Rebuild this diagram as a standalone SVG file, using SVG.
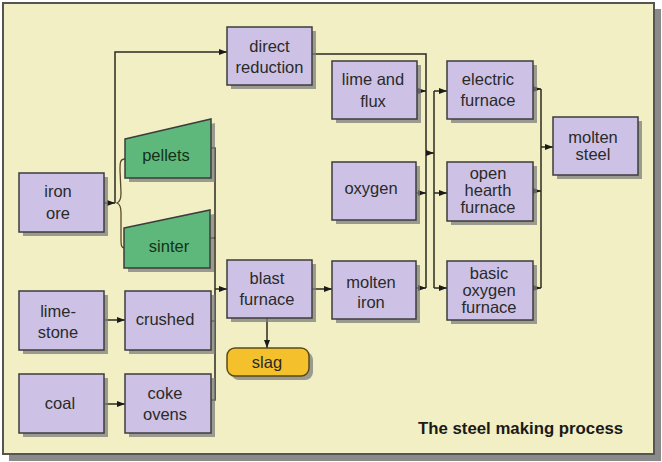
<svg xmlns="http://www.w3.org/2000/svg" width="662" height="462" viewBox="0 0 662 462">
<defs>
<style>
.frame{fill:#f3efc4;stroke:#555;stroke-width:2}
.fshadow{fill:#8a8a8a}
.box{fill:#cdc2e5;stroke:#3c3c3c;stroke-width:1.5}
.green{fill:#5fb87b;stroke:#3c3c3c;stroke-width:1.5}
.slag{fill:#f4c02c;stroke:#5a4a1a;stroke-width:1.5}
.sh{fill:#7d7d7d;opacity:0.75}
.t{font-family:"Liberation Sans",Arial,sans-serif;font-size:16.5px;fill:#2a2a2a;text-anchor:middle}
.tg{fill:#143218}
.title{font-family:"Liberation Sans",Arial,sans-serif;font-size:16.8px;font-weight:bold;fill:#1a1a1a}
.ln{fill:none;stroke:#2b2b20;stroke-width:1.5}
.ar{fill:none;stroke:#2b2b20;stroke-width:1.5;marker-end:url(#ah)}
.brace{fill:none;stroke:#5a4a2a;stroke-width:1.3}
</style>
<marker id="ah" viewBox="0 0 8 6" refX="8" refY="3" markerWidth="8" markerHeight="6" markerUnits="userSpaceOnUse" orient="auto">
<path d="M0,0 L8,3 L0,6 Z" fill="#1a1a1a"/>
</marker>
</defs>
<rect x="0" y="0" width="662" height="462" fill="#ffffff"/>
<rect class="fshadow" x="9" y="9" width="652" height="452"/>
<rect class="frame" x="3" y="3" width="651" height="451"/>

<g id="connectors">
<polyline class="ar" points="115,203 115,52 227,52"/>
<line class="ar" x1="104" y1="203" x2="115" y2="203"/>
<path class="brace" d="M125,159 C120,159 120,163 120,170 L121,193 C121,199 120,202 117,203 C120,204 121,207 121,213 L121,238 C121,245 121,248 125,248"/>
<polyline class="ln" points="211,148 215,148 215,400 211,400"/>
<line class="ln" x1="210" y1="238" x2="215" y2="238"/>
<line class="ln" x1="211" y1="321" x2="215" y2="321"/>
<line class="ar" x1="215" y1="289" x2="227" y2="289"/>
<line class="ar" x1="105" y1="320" x2="125" y2="320"/>
<line class="ar" x1="105" y1="404" x2="125" y2="404"/>
<line class="ar" x1="267" y1="318" x2="267" y2="348"/>
<line class="ar" x1="312" y1="289" x2="332" y2="289"/>
<polyline class="ln" points="312,54 426,54 426,288"/>
<line class="ar" x1="417" y1="91" x2="426" y2="91"/>
<line class="ar" x1="416" y1="193" x2="426" y2="193"/>
<line class="ar" x1="416" y1="288" x2="426" y2="288"/>
<line class="ar" x1="426" y1="153" x2="434" y2="153"/>
<line class="ln" x1="434" y1="91" x2="434" y2="288"/>
<line class="ar" x1="434" y1="91" x2="447" y2="91"/>
<line class="ar" x1="434" y1="193" x2="447" y2="193"/>
<line class="ar" x1="434" y1="288" x2="447" y2="288"/>
<line class="ar" x1="533" y1="89" x2="541" y2="89"/>
<line class="ar" x1="533" y1="191" x2="541" y2="191"/>
<line class="ar" x1="533" y1="288" x2="541" y2="288"/>
<line class="ln" x1="541" y1="89" x2="541" y2="288"/>
<line class="ar" x1="541" y1="147" x2="553" y2="147"/>
</g>

<g id="direct-reduction">
<rect class="sh" x="231" y="31" width="85" height="58"/>
<rect class="box" x="227" y="27" width="85" height="58"/>
<text class="t" x="269.5" y="52">direct</text>
<text class="t" x="269.5" y="73">reduction</text>
</g>
<g id="iron-ore">
<rect class="sh" x="23" y="177" width="85" height="59"/>
<rect class="box" x="19" y="173" width="85" height="59"/>
<text class="t" x="58" y="197">iron</text>
<text class="t" x="58" y="219">ore</text>
</g>
<g id="pellets">
<polygon class="sh" points="129,143 215,123 215,182 129,182"/>
<polygon class="green" points="125,139 211,119 211,178 125,178"/>
<text class="t tg" x="166" y="161">pellets</text>
</g>
<g id="sinter">
<polygon class="sh" points="128,232 214,214 214,272 128,272"/>
<polygon class="green" points="124,228 210,210 210,268 124,268"/>
<text class="t tg" x="169" y="252">sinter</text>
</g>
<g id="limestone">
<rect class="sh" x="23" y="295" width="85" height="59"/>
<rect class="box" x="19" y="291" width="85" height="59"/>
<text class="t" x="58" y="317">lime-</text>
<text class="t" x="58" y="338">stone</text>
</g>
<g id="crushed">
<rect class="sh" x="129" y="295" width="86" height="59"/>
<rect class="box" x="125" y="291" width="86" height="59"/>
<text class="t" x="165" y="325">crushed</text>
</g>
<g id="coal">
<rect class="sh" x="23" y="378" width="85" height="59"/>
<rect class="box" x="19" y="374" width="85" height="59"/>
<text class="t" x="60" y="409">coal</text>
</g>
<g id="coke-ovens">
<rect class="sh" x="129" y="378" width="86" height="59"/>
<rect class="box" x="125" y="374" width="86" height="59"/>
<text class="t" x="165" y="399">coke</text>
<text class="t" x="165" y="420">ovens</text>
</g>
<g id="blast-furnace">
<rect class="sh" x="231" y="264" width="85" height="58"/>
<rect class="box" x="227" y="260" width="85" height="58"/>
<text class="t" x="267" y="284">blast</text>
<text class="t" x="267" y="305">furnace</text>
</g>
<g id="slag">
<rect class="sh" x="231" y="352" width="82" height="28" rx="8"/>
<rect class="slag" x="227" y="348" width="82" height="28" rx="8"/>
<text class="t" x="267" y="368">slag</text>
</g>
<g id="lime-and-flux">
<rect class="sh" x="336" y="65" width="85" height="58"/>
<rect class="box" x="332" y="61" width="85" height="58"/>
<text class="t" x="373" y="85">lime and</text>
<text class="t" x="373" y="107">flux</text>
</g>
<g id="oxygen">
<rect class="sh" x="336" y="166" width="84" height="58"/>
<rect class="box" x="332" y="162" width="84" height="58"/>
<text class="t" x="371" y="194">oxygen</text>
</g>
<g id="molten-iron">
<rect class="sh" x="336" y="265" width="84" height="58"/>
<rect class="box" x="332" y="261" width="84" height="58"/>
<text class="t" x="371" y="288">molten</text>
<text class="t" x="371" y="308">iron</text>
</g>
<g id="electric-furnace">
<rect class="sh" x="451" y="65" width="86" height="58"/>
<rect class="box" x="447" y="61" width="86" height="58"/>
<text class="t" x="488" y="85">electric</text>
<text class="t" x="488" y="106">furnace</text>
</g>
<g id="open-hearth-furnace">
<rect class="sh" x="451" y="166" width="86" height="59"/>
<rect class="box" x="447" y="162" width="86" height="59"/>
<text class="t" x="488" y="179">open</text>
<text class="t" x="488" y="196">hearth</text>
<text class="t" x="488" y="213">furnace</text>
</g>
<g id="basic-oxygen-furnace">
<rect class="sh" x="451" y="265" width="86" height="59"/>
<rect class="box" x="447" y="261" width="86" height="59"/>
<text class="t" x="489" y="279">basic</text>
<text class="t" x="489" y="296">oxygen</text>
<text class="t" x="489" y="313">furnace</text>
</g>
<g id="molten-steel">
<rect class="sh" x="557" y="121" width="85" height="58"/>
<rect class="box" x="553" y="117" width="85" height="58"/>
<text class="t" x="593" y="143">molten</text>
<text class="t" x="593" y="160">steel</text>
</g>
<text class="title" x="418" y="434">The steel making process</text>
</svg>
